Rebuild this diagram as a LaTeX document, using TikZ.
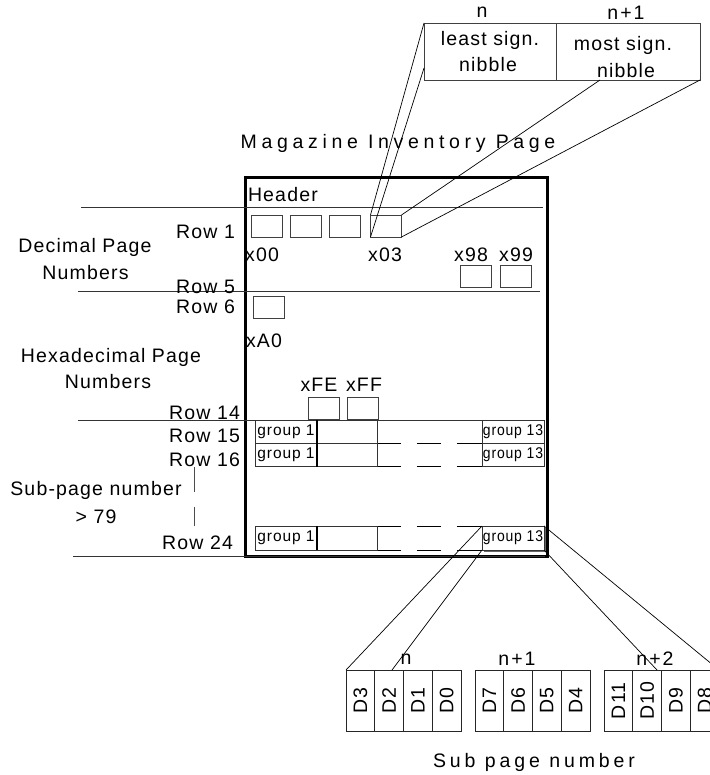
\documentclass[tikz,border=0pt]{standalone}
\usepackage{fontspec}
\setmainfont[LetterSpace=6]{Liberation Sans}
\newfontfamily\spacedfont[LetterSpace=24]{Liberation Sans}
\newfontfamily\subfont[LetterSpace=20]{Liberation Sans}
\usetikzlibrary{calc}
\begin{document}
\begin{tikzpicture}[x=1pt,y=-1pt,
  txt/.style={inner sep=0pt, outer sep=0pt, font=\fontsize{19.5}{22}\selectfont},
  rowlbl/.style={inner sep=0pt, outer sep=0pt, anchor=east, font=\fontsize{19.5}{22}\selectfont},
  cellbox/.style={draw=black!75, line width=0.9pt, inner sep=0pt, outer sep=0pt, minimum width=31, minimum height=22},
  grpbox/.style={draw=black!80, line width=0.9pt, inner sep=0pt, outer sep=0pt, minimum height=23.3, font=\fontsize{15.5}{17}\selectfont},
  dbox/.style={draw=black!85, line width=0.9pt, inner sep=0pt, outer sep=0pt, minimum width=28.75, minimum height=61.7},
  dlbl/.style={inner sep=0pt, rotate=90, font=\fontsize{19.5}{22}\selectfont},
  conn/.style={draw=black, line width=0.7pt},
  rule/.style={draw=black!80, line width=1pt},
  dashrow/.style={draw=black, line width=0.9pt, dash pattern=on 23.4pt off 16pt on 24pt off 16pt on 25pt}
]
\useasboundingbox (0,0) rectangle (709,775);

% ---------- nibble box ----------
\node[cellbox, minimum width=132, minimum height=57] (nibL) at (490,51.5) {};
\node[cellbox, minimum width=144, minimum height=57] (nibR) at (628,51.5) {};
\node[txt] (nlab) at (482,12) {n};
\node[txt] (n1lab) at (626,13) {n\hspace{2pt}+\hspace{2pt}1};
\node[txt] (ls1) at (490,40) {least sign.};
\node[txt] (ls2) at (488,65) {nibble};
\node[txt] (ms1) at (623,45) {most sign.};
\node[txt] (ms2) at (626,71) {nibble};

\node[inner sep=0pt, font=\spacedfont\fontsize{19.5}{22}\selectfont] (title) at (398,143) {Magazine Inventory Page};

% ---------- page frame ----------
\node[draw, line width=3pt, inner sep=0pt, outer sep=0pt, minimum width=302, minimum height=378] (page) at (396,367) {};
\node[txt, anchor=west] (hdr) at (248,195) {Header};

% horizontal rules
\draw[rule] (81,208) -- (543,208);
\draw[rule] (78,291) -- (540,291);
\draw[rule] (78,420) -- (543,420);
\draw[rule] (73,556) -- (545,556);

% ---------- rows 1..5 ----------
\node[cellbox] (b00) at (266.5,226) {};
\node[cellbox] (b01) at (305.5,226) {};
\node[cellbox] (b02) at (345,226) {};
\node[cellbox] (b03) at (386,226) {};
\node[txt] (l00) at (262,255) {x00};
\node[txt] (l03) at (385,255) {x03};
\node[txt] (l98) at (471,255) {x98};
\node[txt] (l99) at (516,255) {x99};
\node[cellbox] (b98) at (476,276.5) {};
\node[cellbox] (b99) at (516,276.5) {};

% ---------- rows 6..14 ----------
\node[cellbox] (bA0) at (268.5,307.5) {};
\node[txt] (lA0) at (264,341) {xA0};
\node[txt] (lFE) at (319,385) {xFE};
\node[txt] (lFF) at (364,385) {xFF};
\node[cellbox] (bFE) at (324,408) {};
\node[cellbox] (bFF) at (362.5,408) {};

% ---------- left labels ----------
\node[rowlbl] (r1) at (235,232) {Row 1};
\node[rowlbl] (r5) at (235,287) {Row 5};
\node[rowlbl] (r6) at (235,307) {Row 6};
\node[rowlbl] (r14) at (240,413) {Row 14};
\node[rowlbl] (r15) at (240,436) {Row 15};
\node[rowlbl] (r16) at (240,460) {Row 16};
\node[rowlbl] (r24) at (233,543) {Row 24};
\node[txt] (dec1) at (85,247) {Decimal Page};
\node[txt] (dec2) at (85.5,273) {Numbers};
\node[txt] (hex1) at (111,357) {Hexadecimal Page};
\node[txt] (hex2) at (108,382) {Numbers};
\node[txt] (sub1) at (96,490) {Sub-page number};
\node[txt] (sub2) at (96,517) {> 79};
\draw[draw=black!70, line width=0.8pt] (194,467) -- (194,492);
\draw[draw=black!70, line width=0.8pt] (194,507) -- (194,526);

% ---------- group rows ----------
\node[grpbox, minimum width=62] (g1a) at (286,431.65) {group 1};
\node[grpbox, minimum width=61] (c2a) at (347,431.65) {};
\node[grpbox, minimum width=62] (g13a) at (513,431.65) {\scalebox{0.9}[1]{group 13}};
\node[grpbox, minimum width=62] (g1b) at (286,455) {group 1};
\node[grpbox, minimum width=61] (c2b) at (347,455) {};
\node[grpbox, minimum width=62] (g13b) at (513,455) {\scalebox{0.9}[1]{group 13}};
\node[grpbox, minimum width=62, minimum height=24] (g1c) at (286,538) {group 1};
\node[grpbox, minimum width=61, minimum height=24] (c2c) at (347,538) {};
\node[grpbox, minimum width=62, minimum height=24] (g13c) at (513,538) {\scalebox{0.9}[1]{group 13}};
\draw[line width=2pt] (g1a.north east) -- (g1b.south east);
\draw[line width=2pt] (g1c.north east) -- (g1c.south east);
\draw[dashrow] (c2a.south east) -- (g13a.south west);
\draw[dashrow] (c2b.south east) -- (g13b.south west);
\draw[dashrow] (c2c.north east) -- (g13c.north west);
\draw[dashrow] (c2c.south east) -- (g13c.south west);
\draw[black!60, line width=1pt] ($(g13c.north east)+(1.5,1.5)$) -- ($(g13c.south east)+(1.5,1.5)$) -- ($(g13c.south west)+(1.5,1.5)$);

% ---------- sub page number cells ----------
\foreach \g/\gx/\la/\lb/\lc/\ld in {1/346/D3/D2/D1/D0, 2/475/D7/D6/D5/D4, 3/604/D11/D10/D9/D8}{
  \foreach \i/\t in {0/\la,1/\lb,2/\lc,3/\ld}{
    \node[dbox] (d\g\i) at ({\gx+14.375+28.75*\i},700.85) {};
    \node[dlbl] at (d\g\i) {\t};
  }
}
\node[txt] (gn0) at (406,659) {n};
\node[txt] (gn1) at (517,659) {n\hspace{2pt}+\hspace{2pt}1};
\node[txt] (gn2) at (655,659) {n\hspace{2pt}+\hspace{2pt}2};
\node[inner sep=0pt, font=\subfont\fontsize{19.5}{22}\selectfont] (subpn) at (534,762) {Sub page number};

% ---------- connectors ----------
\coordinate (nibLmid) at (424,68);
\coordinate (nibRbot) at (600,80);
\draw[conn] (nibL.north west) -- (b03.north west);
\draw[conn] (nibLmid) -- (b03.south west);
\draw[conn] (nibRbot) -- (b03.north east);
\draw[conn] (nibR.south east) -- (b03.south east);

\coordinate (d2top) at (392,670);
\coordinate (d10top) at (657,670);
\draw[conn] (g13c.north west) -- (d10.north west);
\draw[conn] (g13c.south west) -- (d2top);
\draw[conn] (g13c.north east) -- (d33.north east);
\draw[conn] (g13c.south east) -- (d10top);
\end{tikzpicture}
\end{document}
